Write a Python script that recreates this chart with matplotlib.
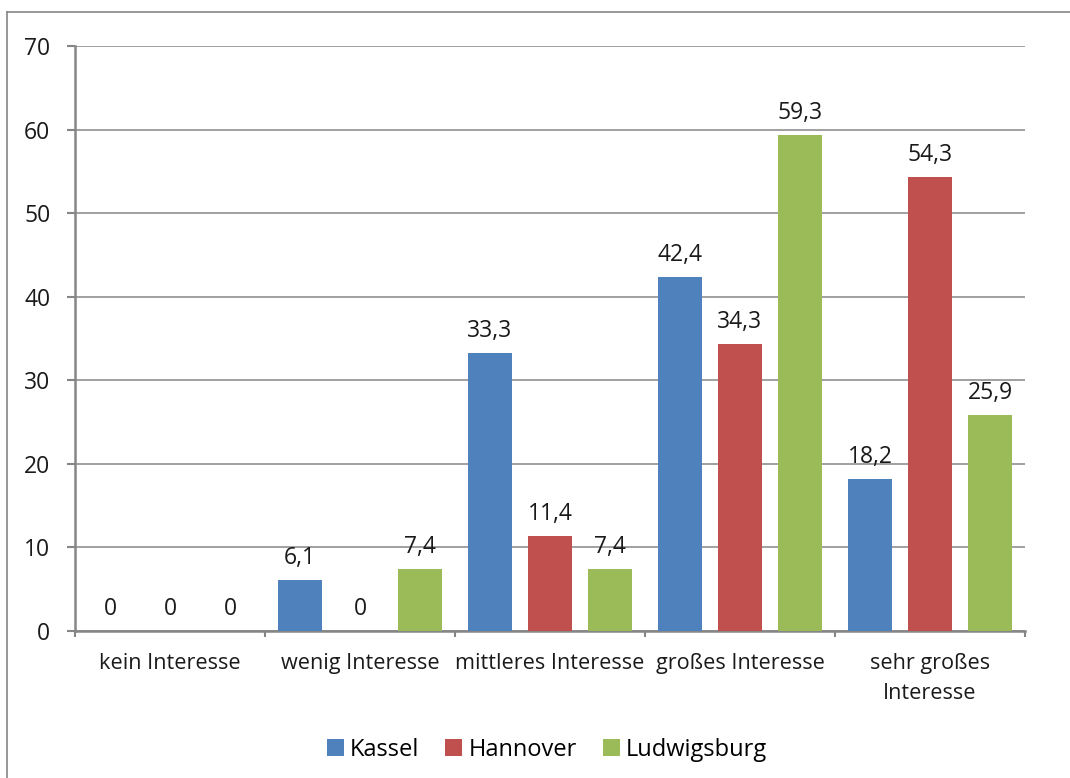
import matplotlib.pyplot as plt
import numpy as np
from matplotlib.lines import Line2D

# Daten
kategorien = ["kein Interesse", "wenig Interesse", "mittleres Interesse",
              "großes Interesse", "sehr großes\nInteresse"]
kassel = [0, 6.1, 33.3, 42.4, 18.2]
hannover = [0, 0, 11.4, 34.3, 54.3]
ludwigsburg = [0, 7.4, 7.4, 59.3, 25.9]
staedte = ["Kassel", "Hannover", "Ludwigsburg"]
farben = ["#4F81BD", "#C0504D", "#9BBB59"]

plt.rcParams["font.family"] = ["Open Sans", "DejaVu Sans"]
grau = "#868686"

fig = plt.figure(figsize=(10.70, 7.78), dpi=100)
W, H = 1070, 778
ax = fig.add_axes([75 / W, (H - 631) / H, (1025 - 75) / W, (631 - 46) / H])

x = np.arange(len(kategorien))
breite = 0.232
abstand = 0.316

for i, (werte, name, farbe) in enumerate(zip([kassel, hannover, ludwigsburg], staedte, farben)):
    pos = x + (i - 1) * abstand
    ax.bar(pos, werte, width=breite, color=farbe, label=name, zorder=3)
    for px, v in zip(pos, werte):
        txt = ("%g" % v).replace(".", ",")
        ax.annotate(txt, (px, v), xytext=(0, 11.5), textcoords="offset points",
                    ha="center", va="baseline", fontsize=16.5, color="#1a1a1a")

ax.set_xlim(-0.5, len(kategorien) - 0.5)
ax.set_ylim(0, 70)
ax.set_yticks(range(0, 71, 10))
ax.yaxis.grid(True, color=grau, linewidth=1.1, zorder=0)
ax.set_axisbelow(True)

ax.set_xticks(x)
ax.set_xticklabels(kategorien, fontsize=15.6, color="#1a1a1a", linespacing=1.55)
ax.set_xticks(np.arange(-0.5, len(kategorien), 1), minor=True)
ax.tick_params(axis="x", which="major", length=0, pad=16)
ax.tick_params(axis="x", which="minor", length=4.5, width=1.5, color=grau, direction="out")
ax.tick_params(axis="y", length=5.8, width=1.5, color=grau, pad=12,
               labelsize=16.5, labelcolor="#1a1a1a")

for s in ["top", "right"]:
    ax.spines[s].set_visible(False)
for s in ["left", "bottom"]:
    ax.spines[s].set_color(grau)
    ax.spines[s].set_linewidth(1.8)

# Legende
leg = fig.legend(loc="center", bbox_to_anchor=(547 / W, (H - 750) / H), ncol=3,
                 frameon=False, fontsize=17, handlelength=0.72, handleheight=0.72,
                 handletextpad=0.25, columnspacing=1.1)

# Diagrammrahmen (rechts/unten abgeschnitten)
fig.add_artist(Line2D([7 / W, 1.0], [(H - 12) / H] * 2, color=grau, linewidth=1.2,
                      transform=fig.transFigure))
fig.add_artist(Line2D([7 / W] * 2, [0.0, (H - 12) / H], color=grau, linewidth=1.2,
                      transform=fig.transFigure))

fig.savefig("out.png", dpi=100, facecolor="white")
